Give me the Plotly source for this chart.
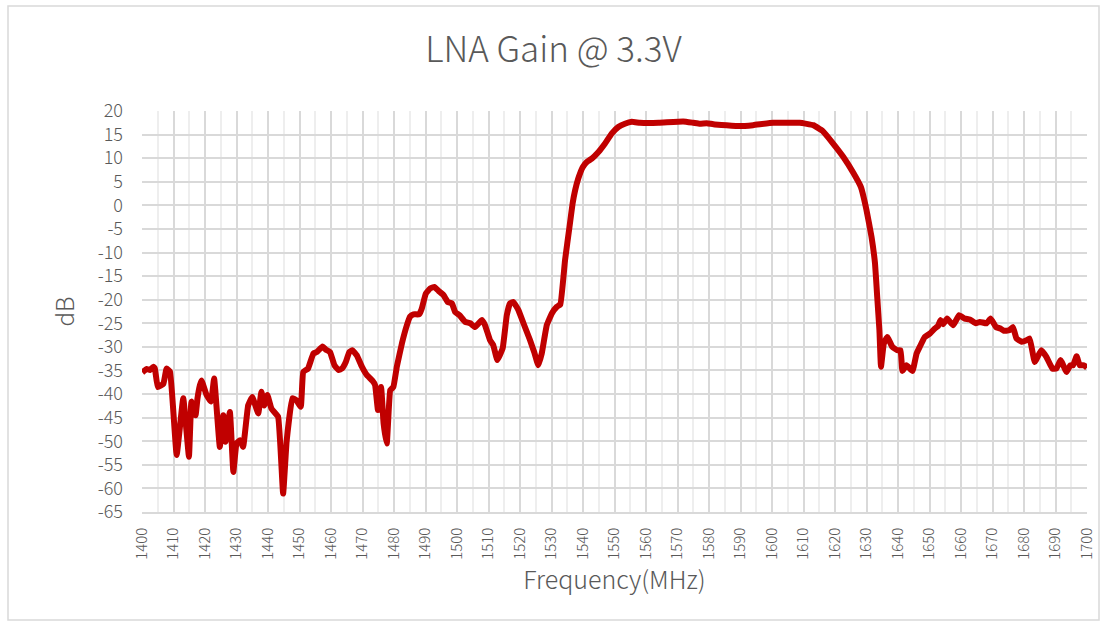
import plotly.graph_objects as go

freq = [1400.1, 1401.5, 1402.5, 1403.6, 1404.1, 1405.0, 1406.8, 1407.8, 1408.9, 1411.0,
        1413.1, 1414.9, 1415.7, 1417.0, 1417.6, 1418.4, 1418.9, 1420.5, 1421.9, 1422.9,
        1424.7, 1425.8, 1426.5, 1427.9, 1429.0, 1430.0, 1431.1, 1432.1, 1433.7, 1435.0,
        1436.9, 1437.9, 1438.8, 1439.8, 1441.1, 1443.2, 1444.8, 1445.9, 1447.7, 1449.0,
        1450.4, 1451.2, 1452.7, 1454.4, 1455.5, 1457.3, 1458.4, 1459.7, 1461.1, 1462.4,
        1463.5, 1464.7, 1465.8, 1466.8, 1468.2, 1469.8, 1471.4, 1473.2, 1474.0, 1474.9,
        1475.9, 1476.7, 1477.7, 1478.8, 1479.8, 1480.9, 1482.5, 1484.1, 1485.1, 1486.2,
        1488.0, 1488.8, 1490.1, 1491.5, 1492.8, 1494.1, 1495.7, 1497.1, 1498.4, 1499.4,
        1500.8, 1502.6, 1504.2, 1505.7, 1507.9, 1508.9, 1510.5, 1511.5, 1512.8, 1514.5,
        1515.8, 1516.8, 1517.9, 1519.5, 1521.1, 1523.2, 1524.5, 1525.8, 1526.9, 1528.5,
        1530.1, 1531.7, 1532.8, 1534.3, 1535.7, 1536.7, 1537.5, 1538.5, 1539.9, 1541.2,
        1542.8, 1544.9, 1547.0, 1549.1, 1551.2, 1553.3, 1555.5, 1558.1, 1564.0, 1571.8,
        1575.0, 1577.1, 1579.3, 1581.4, 1589.8, 1594.0, 1600.4, 1608.8, 1613.1, 1616.0,
        1619.4, 1622.6, 1625.8, 1628.2, 1630.0, 1631.6, 1632.7, 1633.4, 1634.1, 1634.6,
        1635.5, 1636.6, 1638.2, 1639.7, 1640.8, 1641.4, 1642.7, 1644.6, 1645.9, 1646.9,
        1648.5, 1650.1, 1651.7, 1652.7, 1653.5, 1654.3, 1655.6, 1657.5, 1659.4, 1661.2,
        1662.8, 1664.7, 1666.0, 1668.1, 1669.4, 1671.1, 1672.5, 1673.6, 1675.3, 1676.5,
        1677.6, 1679.2, 1680.8, 1681.8, 1683.4, 1685.5, 1687.1, 1689.0, 1690.3, 1691.6,
        1693.5, 1694.7, 1695.6, 1696.7, 1697.7, 1699.0, 1700.0]

gain = [-35.4, -34.7, -34.9, -34.2, -34.6, -38.5, -37.8, -34.6, -35.3, -52.9,
        -40.9, -53.3, -41.6, -44.5, -41.0, -38.1, -37.1, -40.2, -41.6, -36.7,
        -51.2, -44.5, -50.1, -43.8, -56.5, -50.5, -49.8, -51.2, -42.4, -40.6,
        -44.1, -39.5, -42.4, -40.2, -43.1, -44.8, -61.1, -50.1, -40.9, -41.3,
        -42.7, -35.3, -34.6, -31.4, -31.1, -29.9, -30.6, -31.1, -33.9, -34.9,
        -34.6, -33.2, -31.1, -30.7, -31.8, -34.2, -36.0, -37.2, -38.1, -43.4,
        -38.5, -46.2, -50.5, -39.2, -38.5, -34.2, -29.3, -25.4, -23.6, -23.1,
        -23.1, -21.9, -18.7, -17.6, -17.3, -18.1, -19.0, -20.5, -20.8, -22.6,
        -23.3, -24.7, -25.0, -25.8, -24.3, -25.4, -28.6, -29.6, -32.8, -30.3,
        -23.3, -20.8, -20.5, -22.2, -25.0, -28.6, -31.1, -33.9, -31.4, -25.4,
        -22.9, -21.5, -21.0, -11.6, -4.6, 0.4, 3.2, 5.7, 8.1, 9.2,
        9.9, 11.3, 13.1, 15.2, 16.6, 17.3, 17.7, 17.5, 17.5, 17.8,
        17.5, 17.3, 17.4, 17.2, 16.8, 17.0, 17.5, 17.5, 17.0, 15.8,
        13.1, 10.3, 6.9, 3.9, -1.0, -6.7, -12.3, -19.4, -26.5, -34.2,
        -29.3, -27.9, -30.0, -30.7, -30.7, -35.1, -33.9, -35.1, -31.4, -30.0,
        -27.9, -27.2, -26.1, -25.6, -24.3, -25.2, -24.0, -25.4, -23.3, -24.0,
        -24.2, -25.0, -24.7, -25.0, -24.0, -25.8, -26.1, -26.6, -26.5, -25.8,
        -28.2, -28.9, -28.6, -28.2, -33.2, -30.7, -32.1, -34.6, -34.6, -32.8,
        -35.3, -33.9, -33.9, -32.0, -33.9, -33.9, -34.4]

x_ticks = list(range(1400, 1701, 10))
y_ticks = list(range(-65, 21, 5))
y_labels = [str(v) for v in y_ticks]

W, H = 1107, 628
L, R, T, B = 142, 20, 111, 116

fig = go.Figure()
fig.add_trace(go.Scatter(x=freq, y=gain, mode="lines",
                         line=dict(color="#c00000", width=6, shape="spline", smoothing=0.3),
                         hoverinfo="x+y", showlegend=False))

font_fam = "Noto Sans CJK SC, Noto Sans, sans-serif"
gray = "#595959"

fig.update_layout(
    width=W, height=H,
    margin=dict(l=L, r=R, t=T, b=B, autoexpand=False),
    paper_bgcolor="white", plot_bgcolor="white",
    title=dict(text="LNA Gain @ 3.3V", x=0.5, xanchor="center", y=1 - 50 / H, yanchor="middle",
               font=dict(family=font_fam, size=35, color=gray, weight=300)),
    font=dict(family=font_fam, color=gray),
    xaxis=dict(range=[1400, 1700], tickvals=x_ticks, tickangle=-90,
               tickfont=dict(size=15, color=gray, weight=300),
               showgrid=True, gridcolor="#d9d9d9", gridwidth=1.5,
               minor=dict(dtick=5, tick0=1400, showgrid=True, gridcolor="#eeeeee", gridwidth=1.5),
               showline=True, linecolor="#d9d9d9", linewidth=1.5, zeroline=False,
               ticks="", ticklabelstandoff=8,
               title=dict(text="Frequency(MHz)", font=dict(size=25, color=gray, weight=300), standoff=13)),
    yaxis=dict(range=[-65, 20], tickvals=y_ticks, ticktext=y_labels,
               tickfont=dict(size=18, color=gray, weight=300),
               showgrid=True, gridcolor="#d9d9d9", gridwidth=1.5,
               showline=False, zeroline=False, ticks="", ticklabelstandoff=18,
               title=dict(text="dB", font=dict(size=24, color=gray, weight=300), standoff=16)),
)

# chart-area border
fig.add_shape(type="rect", xref="paper", yref="paper", layer="below",
              x0=(8 - L) / (W - L - R), x1=(1099 - L) / (W - L - R),
              y0=(H - B - 620) / (H - T - B), y1=(H - B - 6) / (H - T - B),
              line=dict(color="#d9d9d9", width=1.5), fillcolor="rgba(0,0,0,0)")

fig.write_html("out.html", config={"displayModeBar": False},
               post_script="document.body.style.margin='0px';")
